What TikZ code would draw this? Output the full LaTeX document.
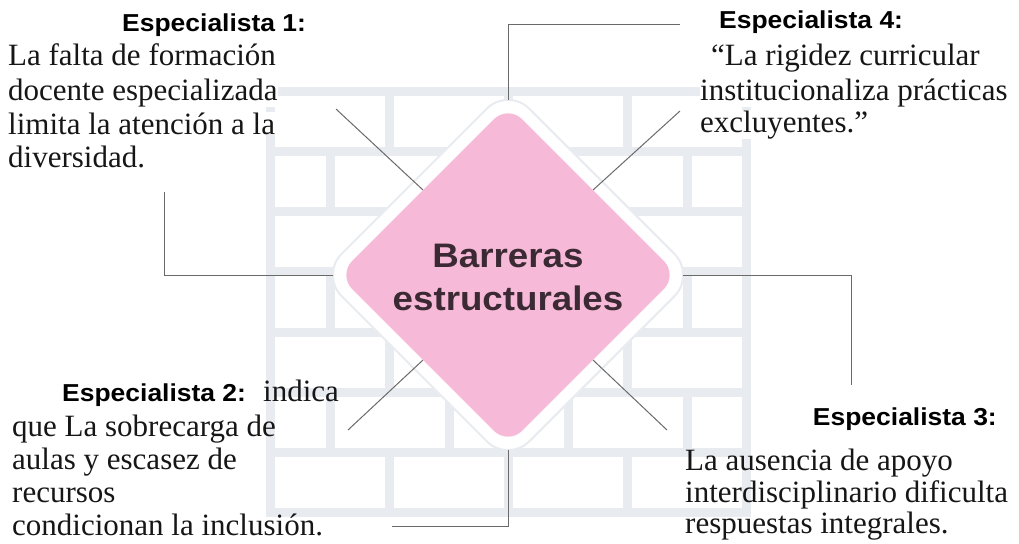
\documentclass[tikz,border=0pt]{standalone}
\usepackage{fontspec}
\setmainfont{Liberation Serif}
\newfontfamily\labelfont[FakeStretch=1.08]{Liberation Sans}
\usetikzlibrary{shapes.geometric,calc}
\definecolor{wallc}{HTML}{E8EBF0}
\definecolor{pinkc}{HTML}{F6B9D7}
\definecolor{linec}{HTML}{6A6A6A}
\definecolor{titlec}{HTML}{3B2A34}
\definecolor{textc}{HTML}{161616}
\begin{document}
\begin{tikzpicture}[x=1pt,y=-1pt,
  body/.style={anchor=base west, inner sep=0pt, text=textc, font=\fontsize{31}{34}\selectfont},
  bodyw/.style={body, fill=white},
  lab/.style={anchor=base west, inner sep=0pt, text=black, font=\labelfont\bfseries\fontsize{24.5}{28}\selectfont},
  titletext/.style={anchor=base, inner sep=0pt, text=titlec, font=\labelfont\bfseries\fontsize{34}{40}\selectfont},
  conn/.style={draw=linec, line width=1pt},
  mortar/.style={draw=wallc, line width=9pt},
]
\useasboundingbox (0,0) rectangle (1019,543);
\fill[white] (0,0) rectangle (1019,543);
% brick wall
\draw[mortar] (270.5,91.5) rectangle (746.5,512.5);
\foreach \i in {1,...,6} \draw[mortar] (270.5,{91.5+60.14*\i}) -- (746.5,{91.5+60.14*\i});
\foreach \r in {0,2,4,6} \foreach \x in {389.5,508.5,627.5}
  \draw[mortar] (\x,{91.5+60.14*\r}) -- (\x,{91.5+60.14*(\r+1)});
\foreach \r in {1,3,5} \foreach \x in {330,449,568,687}
  \draw[mortar] (\x,{91.5+60.14*\r}) -- (\x,{91.5+60.14*(\r+1)});
% central diamond
\node[diamond, aspect=1, minimum width=376pt, minimum height=376pt, inner sep=0pt,
      fill=white, draw=wallc, line width=2pt, rounded corners=30pt] (dout) at (508,275) {};
\node[diamond, aspect=1, minimum width=340pt, minimum height=340pt, inner sep=0pt,
      fill=pinkc, rounded corners=20pt] (d) at (508,275) {};
\node[titletext] (t1) at (508,267) {Barreras};
\node[titletext] (t2) at (508,310) {estructurales};
% connectors
\coordinate (e1) at (336,109);
\coordinate (e4) at (680,111);
\coordinate (e3) at (667,430);
\coordinate (e2) at (348,430);
\draw[conn] ($(d.north)!0.5!(d.west)$) -- (e1);
\draw[conn] ($(d.north)!0.5!(d.east)$) -- (e4);
\draw[conn] ($(d.south)!0.5!(d.east)$) -- (e3);
\draw[conn] ($(d.south)!0.5!(d.west)$) -- (e2);
\coordinate (k1) at (164,192);
\coordinate (k4) at (680,25);
\coordinate (k3) at (851,385);
\coordinate (k2) at (392,526);
\draw[conn] ($(dout.west)+(14,0)$) -| (k1);
\draw[conn] ($(dout.north)+(0,14)$) |- (k4);
\draw[conn] ($(dout.east)+(-14,0)$) -| (k3);
\draw[conn] ($(dout.south)+(0,-14)$) |- (k2);
% Especialista 1
\node[lab] (l1) at (122,32) {Especialista 1:};
\node[bodyw] (a1) at (8,65) {La falta de formación};
\node[bodyw] (a2) at (8,100) {docente especializada};
\node[bodyw] (a3) at (8,134) {limita la atención a la};
\node[bodyw] (a4) at (8,167) {diversidad.};
% Especialista 4
\node[lab] (l4) at (719,29) {Especialista 4:};
\node[bodyw] (b1) at (711,65) {“La rigidez curricular};
\node[bodyw] (b2) at (700,100) {institucionaliza prácticas};
\node[bodyw] (b3) at (700,132) {excluyentes.”};
% Especialista 2
\node[lab] (l2) at (62,401) {Especialista 2:};
\node[body] (c0) at (263,401) {indica};
\node[body] (c1) at (12,436) {que La sobrecarga de};
\node[body] (c2) at (12,469) {aulas y escasez de};
\node[body] (c3) at (12,502) {recursos};
\node[body] (c4) at (12,535) {condicionan la inclusión.};
% Especialista 3
\node[lab, anchor=base east] (l3) at (997,425) {Especialista 3:};
\node[body] (f1) at (685,470) {La ausencia de apoyo};
\node[body] (f2) at (685,502) {interdisciplinario dificulta};
\node[body] (f3) at (685,533) {respuestas integrales.};
\end{tikzpicture}
\end{document}
